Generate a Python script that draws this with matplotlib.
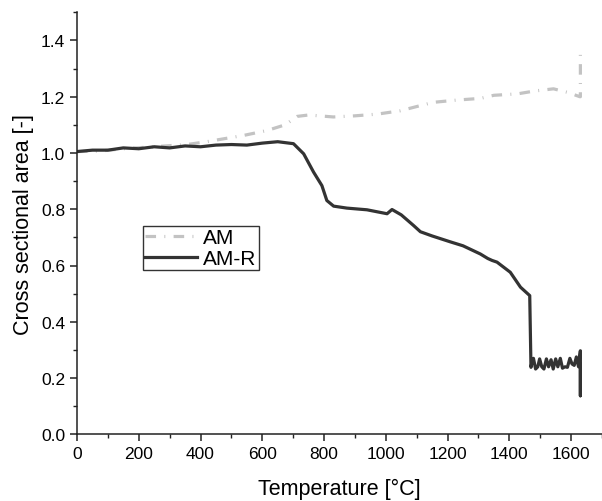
import matplotlib
matplotlib.use("Agg")
import matplotlib.pyplot as plt
from matplotlib.ticker import MultipleLocator

plt.rcParams["font.family"] = ["Liberation Sans", "DejaVu Sans"]

# AM sample (dash-dot, light gray)
am_temp = [0, 75, 150, 246, 356, 420, 473, 538, 616, 674, 713, 750, 830,
           900, 972, 1047, 1100, 1154, 1230, 1306, 1350, 1426, 1480, 1543,
           1590, 1628, 1630, 1630]
am_area = [1.005, 1.007, 1.015, 1.022, 1.030, 1.040, 1.050, 1.062, 1.080,
           1.100, 1.130, 1.135, 1.128, 1.132, 1.138, 1.150, 1.165, 1.180,
           1.188, 1.194, 1.205, 1.210, 1.220, 1.228, 1.215, 1.200, 1.200,
           1.365]

# AM-R sample (solid, dark gray)
amr_temp = [0, 50, 100, 150, 200, 250, 300, 350, 400, 450, 500, 550, 600,
            650, 701, 734, 766, 793, 809, 831, 874, 939, 1004, 1020, 1050,
            1090, 1112, 1150, 1209, 1250, 1306, 1330, 1344, 1360, 1403,
            1436, 1466, 1470, 1472, 1478, 1485, 1492, 1498, 1505, 1512,
            1520, 1527, 1535, 1542, 1550, 1557, 1565, 1572, 1580, 1588,
            1596, 1603, 1610, 1617, 1624, 1628, 1630, 1630, 1630]
amr_area = [1.005, 1.010, 1.010, 1.018, 1.015, 1.022, 1.018, 1.025, 1.022,
            1.028, 1.030, 1.028, 1.035, 1.040, 1.033, 0.997, 0.932, 0.884,
            0.831, 0.811, 0.804, 0.798, 0.784, 0.799, 0.780, 0.742, 0.720,
            0.705, 0.684, 0.670, 0.641, 0.625, 0.618, 0.612, 0.576, 0.523,
            0.493, 0.238, 0.250, 0.270, 0.232, 0.240, 0.268, 0.240, 0.232,
            0.268, 0.240, 0.265, 0.232, 0.268, 0.240, 0.270, 0.235, 0.240,
            0.238, 0.270, 0.250, 0.245, 0.275, 0.240, 0.280, 0.297, 0.137,
            0.250]

fig = plt.figure(figsize=(6.02, 5.02), dpi=100)
ax = fig.add_axes([77 / 602, 1 - 435.3 / 502, 525 / 602, 422 / 502])

ax.plot(am_temp, am_area, color="#c3c3c3", linewidth=2.3,
        linestyle=(0, (3.3, 2.6, 0.3, 2.6)), label="AM")
ax.plot(amr_temp, amr_area, color="#333333", linewidth=2.3,
        linestyle="-", label="AM-R")

ax.set_xlim(0, 1700)
ax.set_ylim(0, 1.5)
ax.xaxis.set_major_locator(MultipleLocator(200))
ax.xaxis.set_minor_locator(MultipleLocator(100))
ax.yaxis.set_minor_locator(MultipleLocator(0.1))
ax.set_yticks([0, 0.2, 0.4, 0.6, 0.8, 1.0, 1.2, 1.4])
ax.set_yticklabels(["0.0", "0.2", "0.4", "0.6", "0.8", "1.0", "1.2", "1.4"])

for side in ("top", "right"):
    ax.spines[side].set_visible(False)
for side in ("left", "bottom"):
    ax.spines[side].set_linewidth(1.1)
    ax.spines[side].set_color("#222222")

ax.tick_params(which="major", direction="out", length=5, width=1.1,
               labelsize=12.5, colors="#222222", labelcolor="black")
ax.tick_params(which="minor", direction="out", length=3, width=1.0,
               colors="#222222")

ax.set_xlabel("Temperature [°C]", fontsize=15.5, labelpad=12)
ax.set_ylabel("Cross sectional area [-]", fontsize=15.5, labelpad=5)

leg = ax.legend(loc="upper left", bbox_to_anchor=(0.125, 0.494),
                borderaxespad=0, fancybox=False, fontsize=15,
                handlelength=2.5, handletextpad=0.3, borderpad=0.1,
                labelspacing=0.1, framealpha=1)
leg.get_frame().set_edgecolor("#333333")
leg.get_frame().set_linewidth(1.0)

fig.savefig("out.png", dpi=100)
